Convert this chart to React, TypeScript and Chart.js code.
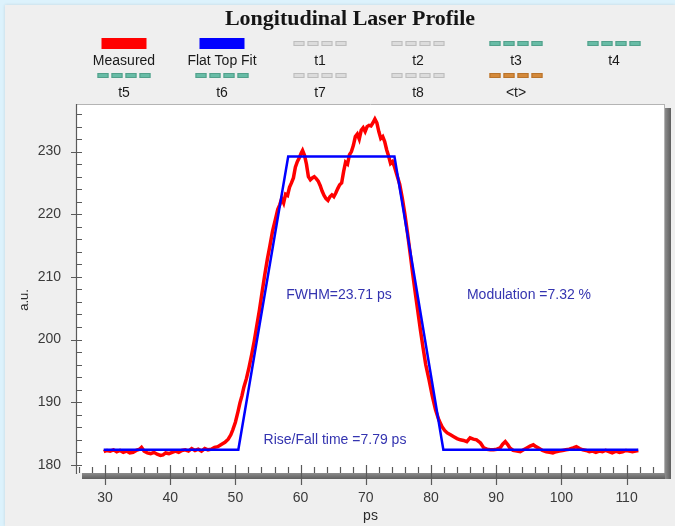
import { useEffect, useRef } from "react";
import { Chart, registerables } from "chart.js";

Chart.register(...registerables);

// ---- chart content ----
const titleText = "Longitudinal Laser Profile";
const xAxisTitle = "ps";
const yAxisTitle = "a.u.";

const xTickValues = [30, 40, 50, 60, 70, 80, 90, 100, 110];
const yTickValues = [180, 190, 200, 210, 220, 230];

// measured longitudinal profile
const measuredPs = [
  29.8, 30.3, 30.8, 31.3, 31.8, 32.3, 32.8, 33.3, 33.8, 34.3, 34.8, 35.3, 35.6, 36.0, 36.5, 37.0,
  37.5, 38.0, 38.5, 38.9, 39.3, 39.8, 40.3, 40.8, 41.3, 41.8, 42.3, 42.8, 43.3, 43.8, 44.3, 44.8,
  45.3, 45.8, 46.3, 46.8, 47.3, 47.9, 48.4, 48.9, 49.3, 49.6, 50.0, 50.4, 50.7, 51.0, 51.3, 51.7,
  52.1, 52.5, 52.9, 53.3, 53.7, 54.1, 54.5, 54.9, 55.3, 55.7, 56.1, 56.5, 56.8, 57.1, 57.4, 57.7,
  58.0, 58.3, 58.6, 58.9, 59.2, 59.5, 59.8, 60.1, 60.3, 60.6, 60.9, 61.2, 61.5, 61.8, 62.1, 62.4,
  62.7, 63.0, 63.3, 63.6, 63.9, 64.2, 64.5, 64.8, 65.1, 65.4, 65.7, 66.0, 66.3, 66.6, 66.9, 67.2,
  67.5, 67.8, 68.1, 68.4, 68.7, 69.0, 69.3, 69.6, 69.9, 70.2, 70.5, 70.8, 71.1, 71.4, 71.7, 72.0,
  72.3, 72.6, 72.9, 73.2, 73.5, 73.8, 74.1, 74.4, 74.8, 75.2, 75.6, 76.0, 76.4, 76.8, 77.2, 77.6,
  78.0, 78.4, 78.8, 79.2, 79.7, 80.2, 80.7, 81.2, 81.7, 82.1, 82.5, 83.0, 83.5, 84.0, 84.5, 85.0,
  85.5, 86.0, 86.5, 87.0, 87.6, 88.1, 88.6, 89.1, 89.6, 90.1, 90.6, 91.0, 91.4, 91.8, 92.1, 92.6,
  93.2, 93.7, 94.2, 94.7, 95.2, 95.7, 96.1, 96.5, 97.1, 97.7, 98.2, 98.7, 99.2, 99.7, 100.2, 100.7,
  101.2, 101.8, 102.3, 102.8, 103.3, 103.8, 104.3, 104.8, 105.3, 105.8, 106.3, 106.8, 107.3, 107.8, 108.4, 108.9,
  109.4, 109.9, 110.4, 110.9, 111.4, 111.8,
];
const measuredAu = [
  182.1, 182.3, 182.2, 182.4, 182.1, 182.3, 182.0, 182.2, 181.9, 182.0, 182.3, 182.5, 182.8, 182.2, 181.9, 181.8,
  182.0, 181.7, 181.5, 181.6, 181.9, 181.8, 182.0, 182.2, 182.0, 182.3, 182.4, 182.2, 182.6, 182.3, 182.5, 182.2,
  182.6, 182.4, 182.5, 182.8, 182.9, 183.3, 183.6, 184.1, 184.8, 185.6, 186.8, 188.5, 189.9, 191.0, 192.4, 193.8,
  195.6, 197.6, 199.8, 202.3, 204.8, 207.6, 210.3, 212.8, 215.0, 217.3, 219.0, 220.8, 221.5, 222.5, 221.8, 223.2,
  223.0, 224.3, 225.0, 225.8, 227.5, 228.4, 229.0, 229.8, 230.2, 229.4, 228.0, 226.0, 225.5, 225.8, 226.0, 225.7,
  225.3, 224.6, 223.7, 223.0, 222.5, 222.2, 222.8, 223.1, 222.8, 223.4, 224.1, 224.7, 225.0, 226.8, 228.3, 228.0,
  229.5, 230.0, 231.0, 232.4, 232.8, 232.0, 233.4, 233.8, 233.2, 234.0, 234.2, 234.1, 234.6, 235.2, 234.6, 233.2,
  232.1, 232.4, 231.6, 230.3, 229.3, 228.1, 228.4, 227.6, 226.2, 224.8, 222.6, 220.0, 217.0, 213.8, 210.5, 207.4,
  204.4, 201.4, 198.6, 196.0, 193.6, 191.0, 188.8, 187.2, 186.1, 185.5, 185.1, 184.8, 184.5, 184.2, 184.0, 183.9,
  183.7, 184.3, 184.1, 184.0, 183.5, 182.7, 182.5, 182.4, 182.4, 182.5, 182.7, 183.3, 183.7, 183.2, 182.7, 182.3,
  182.2, 182.1, 182.4, 182.7, 183.0, 183.2, 182.9, 182.7, 182.3, 182.1, 182.0, 181.9, 182.1, 182.2, 182.3, 182.4,
  182.5, 182.7, 182.9, 182.6, 182.4, 182.3, 182.1, 182.2, 182.0, 182.2, 182.1, 182.3, 182.1, 181.9, 182.2, 182.0,
  182.1, 182.3, 182.2, 182.1, 182.2, 182.3,
];

// flat-top (trapezoid) fit
const fitPs = [29.8, 50.45, 58.1, 74.4, 81.9, 111.8];
const fitAu = [182.4, 182.4, 229.2, 229.2, 182.4, 182.4];

// individual traces shown only in the legend
const traceNames = ["t1", "t2", "t3", "t4", "t5", "t6", "t7", "t8", "<t>"];
const traceFills = ["#dcdcdc", "#dcdcdc", "#68bca6", "#68bca6", "#68bca6", "#68bca6", "#dcdcdc", "#dcdcdc", "#d4893a"];
const traceEdges = ["#bdbdbd", "#bdbdbd", "#52a08b", "#52a08b", "#52a08b", "#52a08b", "#bdbdbd", "#bdbdbd", "#b8732c"];

const fwhmText = "FWHM=23.71 ps";
const modulationText = "Modulation =7.32 %";
const riseFallText = "Rise/Fall time =7.79 ps";

const SANS = "'Liberation Sans', Arial, sans-serif";
const SERIF = "'Liberation Serif', 'Times New Roman', serif";

const toPoints = (xs: number[], ys: number[]) => xs.map((x, i) => ({ x, y: ys[i] }));

const profilePlugin = {
  id: "profileDecor",
  beforeDatasetsDraw(chart: any) {
    const { ctx, chartArea: a } = chart;
    ctx.save();
    // drop shadow of the plot frame
    const gb = ctx.createLinearGradient(0, a.bottom, 0, a.bottom + 6);
    gb.addColorStop(0, "#8c8c8c");
    gb.addColorStop(1, "#5e5e5e");
    ctx.fillStyle = gb;
    ctx.fillRect(a.left + 6, a.bottom, a.right - a.left, 6);
    const gr = ctx.createLinearGradient(a.right, 0, a.right + 6, 0);
    gr.addColorStop(0, "#8c8c8c");
    gr.addColorStop(1, "#5e5e5e");
    ctx.fillStyle = gr;
    ctx.fillRect(a.right, a.top + 4, 6, a.bottom - a.top + 2);
    // white plot background
    ctx.fillStyle = "#ffffff";
    ctx.fillRect(a.left, a.top, a.right - a.left, a.bottom - a.top);
    ctx.strokeStyle = "#b4b4b4";
    ctx.lineWidth = 1;
    ctx.beginPath();
    ctx.moveTo(a.left, a.top + 0.5);
    ctx.lineTo(a.right, a.top + 0.5);
    ctx.moveTo(a.right - 0.5, a.top);
    ctx.lineTo(a.right - 0.5, a.bottom);
    ctx.stroke();
    ctx.restore();
  },
  afterDatasetsDraw(chart: any) {
    const { ctx, chartArea: a } = chart;
    const xs = chart.scales.x;
    const ys = chart.scales.y;
    ctx.save();
    ctx.strokeStyle = "#5a5a5a";
    ctx.lineWidth = 1.2;
    // y axis line
    ctx.beginPath();
    ctx.moveTo(a.left + 0.5, a.top);
    ctx.lineTo(a.left + 0.5, a.bottom + 1);
    ctx.stroke();
    // y ticks: minor every 2, major every 10
    ctx.beginPath();
    for (let v = 180; v <= 236; v += 2) {
      const py = Math.round(ys.getPixelForValue(v)) + 0.5;
      const major = v % 10 === 0;
      ctx.moveTo(a.left - (major ? 5 : 0), py);
      ctx.lineTo(a.left + 6, py);
    }
    // x ticks
    for (let v = 26; v <= 114; v += 2) {
      const px = Math.round(xs.getPixelForValue(v)) + 0.5;
      const major = v % 10 === 0;
      ctx.moveTo(px, a.bottom - (major ? 8 : 6));
      ctx.lineTo(px, a.bottom + (major ? 12 : 0));
    }
    ctx.stroke();
    ctx.restore();
  },
  afterDraw(chart: any) {
    const { ctx, chartArea: a } = chart;
    ctx.save();
    // title
    ctx.fillStyle = "#151515";
    ctx.textAlign = "center";
    ctx.textBaseline = "middle";
    ctx.font = `bold 22px ${SERIF}`;
    ctx.fillText(titleText, 345, 14);

    // legend grid: 6 columns, swatch above label
    const cols = [119, 217, 315, 413, 511, 609];
    const swatchY = [38.5, 70.5];
    const labelY = [56, 88];
    ctx.font = `14px ${SANS}`;
    chart.data.datasets.forEach((ds: any, i: number) => {
      const cx = cols[i % 6];
      const r = Math.floor(i / 6);
      const sy = swatchY[r];
      if (!ds.borderDash || ds.borderDash.length === 0) {
        ctx.fillStyle = ds.borderColor;
        ctx.fillRect(cx - 22.5, sy - 5.5, 45, 11);
      } else {
        const segW = 11;
        const gap = 3;
        const start = cx - (4 * segW + 3 * gap) / 2;
        for (let k = 0; k < 4; k++) {
          const x0 = start + k * (segW + gap);
          ctx.fillStyle = ds.backgroundColor;
          ctx.fillRect(x0, sy - 2.5, segW, 5);
          ctx.strokeStyle = ds.borderColor;
          ctx.lineWidth = 1;
          ctx.strokeRect(x0 + 0.5, sy - 2, segW - 1, 4);
        }
      }
      ctx.fillStyle = "#1a1a1a";
      ctx.fillText(ds.label, cx, labelY[r]);
    });

    // fit results
    ctx.fillStyle = "#3434b0";
    ctx.font = `14px ${SANS}`;
    ctx.fillText(fwhmText, 334, 290);
    ctx.fillText(modulationText, 524, 290);
    ctx.fillText(riseFallText, 330, 435);

    // axis titles
    ctx.fillStyle = "#2a2a2a";
    ctx.font = `14px ${SANS}`;
    ctx.fillText(xAxisTitle, (a.left + a.right) / 2, 511);
    ctx.translate(19, 295);
    ctx.rotate(-Math.PI / 2);
    ctx.font = `13px ${SANS}`;
    ctx.fillText(yAxisTitle, 0, 0);
    ctx.restore();
  },
};

export default function App() {
  const canvasRef = useRef<HTMLCanvasElement | null>(null);

  useEffect(() => {
    const canvas = canvasRef.current;
    if (!canvas) return;
    const traceSets = traceNames.map((name, i) => ({
      label: name,
      data: [] as { x: number; y: number }[],
      borderColor: traceEdges[i],
      backgroundColor: traceFills[i],
      borderDash: [11, 3],
      borderWidth: 5,
      pointRadius: 0,
      order: 2,
    }));
    const chart = new Chart(canvas, {
      type: "line",
      data: {
        datasets: [
          {
            label: "Measured",
            data: toPoints(measuredPs, measuredAu),
            borderColor: "#ff0000",
            backgroundColor: "#ff0000",
            borderWidth: 3.5,
            pointRadius: 0,
            tension: 0,
            order: 1,
          },
          {
            label: "Flat Top Fit",
            data: toPoints(fitPs, fitAu),
            borderColor: "#0000ff",
            backgroundColor: "#0000ff",
            borderWidth: 2.5,
            pointRadius: 0,
            tension: 0,
            order: 0,
          },
          ...traceSets,
        ],
      },
      options: {
        responsive: false,
        animation: false,
        devicePixelRatio: 1,
        layout: { padding: { left: 0, top: 99, right: 10, bottom: 0 } },
        plugins: {
          legend: { display: false },
          title: { display: false },
          tooltip: { enabled: false },
        },
        scales: {
          x: {
            type: "linear",
            min: 25.55,
            max: 115.9,
            grid: { display: false, drawTicks: false },
            border: { display: false },
            afterBuildTicks: (s: any) => {
              s.ticks = xTickValues.map((v) => ({ value: v }));
            },
            afterFit: (s: any) => {
              s.height = 53;
            },
            ticks: {
              padding: 17,
              maxRotation: 0,
              autoSkip: false,
              color: "#3a3a3a",
              font: { family: SANS, size: 14 },
            },
          },
          y: {
            type: "linear",
            min: 178.7,
            max: 237.6,
            grid: { display: false, drawTicks: false },
            border: { display: false },
            afterBuildTicks: (s: any) => {
              s.ticks = yTickValues.map((v) => ({ value: v }));
            },
            afterFit: (s: any) => {
              s.width = 71;
            },
            ticks: {
              padding: 15,
              autoSkip: false,
              color: "#3a3a3a",
              font: { family: SANS, size: 14 },
            },
          },
        },
      },
      plugins: [profilePlugin],
    });
    return () => chart.destroy();
  }, []);

  return (
    <div
      style={{
        position: "fixed",
        left: 0,
        top: 0,
        width: 675,
        height: 526,
        background: "#dcf2fc",
        overflow: "hidden",
      }}
    >
      <div
        style={{
          position: "absolute",
          left: 5,
          top: 5,
          width: 670,
          height: 521,
          background: "#efefef",
          boxShadow: "0 0 3px rgba(0,0,0,0.12)",
        }}
      >
        <canvas ref={canvasRef} width={670} height={521} style={{ display: "block", width: 670, height: 521 }} />
      </div>
    </div>
  );
}
